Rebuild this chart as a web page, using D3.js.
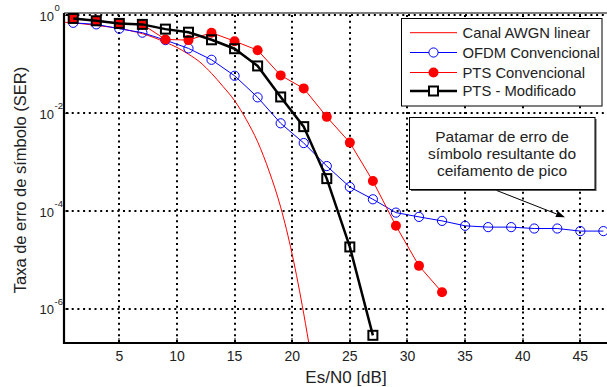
<!DOCTYPE html>
<html>
<head>
<meta charset="utf-8">
<script src="https://cdn.jsdelivr.net/npm/d3@7"></script>
<style>
  html, body { margin: 0; padding: 0; background: #fff; }
  svg { display: block; font-family: Arial, "Liberation Sans", Helvetica, sans-serif; }
</style>
</head>
<body>
<div id="chart"></div>
<script>
(function () {
  "use strict";

  // --- Data ---
  var awgnSnr = [0.2, 1, 2, 3, 4, 5, 6, 7, 8, 9, 10, 11, 12, 13, 14, 15, 16, 17, 18, 19, 20, 21, 21.6];
  var awgnSer = [0.72, 0.70, 0.66, 0.62, 0.58, 0.54, 0.48, 0.42, 0.35, 0.28, 0.22, 0.16, 0.11,
                 0.065, 0.035, 0.018, 7.5e-3, 2.6e-3, 6.5e-4, 1.2e-4, 1.3e-5, 8e-7, 1.2e-7];

  var ofdmSnr = [1, 3, 5, 7, 9, 11, 13, 15, 17, 19, 21, 23, 25, 27, 29, 31, 33, 35, 37, 39, 41, 43, 45, 47];
  var ofdmSer = [0.70, 0.65, 0.53, 0.44, 0.31, 0.21, 0.123, 0.058, 0.021, 6.2e-3, 2.45e-3, 8.3e-4,
                 3.1e-4, 1.74e-4, 9.3e-5, 7.6e-5, 6.3e-5, 5.0e-5, 4.7e-5, 4.7e-5, 4.4e-5, 4.4e-5, 3.9e-5, 3.9e-5];

  var ptsSnr = [1, 3, 5, 7, 9, 11, 13, 15, 17, 19, 21, 23, 25, 27, 29, 31, 33];
  var ptsSer = [0.86, 0.78, 0.69, 0.65, 0.32, 0.31, 0.44, 0.295, 0.193, 0.059, 0.032, 8.4e-3,
                2.5e-3, 4.1e-4, 5.0e-5, 7.6e-6, 2.2e-6];

  var modSnr = [1, 3, 5, 7, 9, 11, 13, 15, 17, 19, 21, 23, 25, 27];
  var modSer = [0.86, 0.77, 0.68, 0.65, 0.52, 0.45, 0.315, 0.207, 0.092, 0.0214, 5.3e-3,
                4.6e-4, 1.85e-5, 2.9e-7];

  var xTicks = [5, 10, 15, 20, 25, 30, 35, 40, 45];
  var yTickExp = [0, -2, -4, -6];

  var legendLabels = ["Canal AWGN linear", "OFDM Convencional", "PTS Convencional", "PTS - Modificado"];
  var noteLines = ["Patamar de erro de", "símbolo resultante do", "ceifamento de pico"];

  // --- Layout ---
  var W = 607, H = 387;
  var plot = { left: 64, right: 608, top: 13, bottom: 343 };

  var svg = d3.select("#chart").append("svg").attr("width", W).attr("height", H);

  var x = d3.scaleLinear().domain([0.2, 47.4]).range([plot.left, plot.right]);
  var y = d3.scaleLog().domain([2.02e-7, 1.11]).range([plot.bottom, plot.top]);

  svg.append("defs").append("clipPath").attr("id", "clip")
    .append("rect")
    .attr("x", plot.left).attr("y", plot.top)
    .attr("width", plot.right - plot.left).attr("height", plot.bottom - plot.top);

  // Grid (MATLAB-style dotted), snapped to whole pixels so the dots stay dark.
  var grid = svg.append("g");
  grid.selectAll("line.v").data(xTicks).enter().append("line")
    .attr("x1", function (d) { return Math.round(x(d)); }).attr("x2", function (d) { return Math.round(x(d)); })
    .attr("y1", plot.top + 2).attr("y2", plot.bottom)
    .attr("stroke", "#000").attr("stroke-width", 2).attr("stroke-dasharray", "2,3.7");
  grid.selectAll("line.h").data(yTickExp).enter().append("line")
    .attr("y1", function (d) { return Math.round(y(Math.pow(10, d))); })
    .attr("y2", function (d) { return Math.round(y(Math.pow(10, d))); })
    .attr("x1", plot.left + 2).attr("x2", plot.right)
    .attr("stroke", "#000").attr("stroke-width", 2).attr("stroke-dasharray", "2,3.7");

  var g = svg.append("g").attr("clip-path", "url(#clip)");

  function pairs(xs, ys) { return xs.map(function (v, i) { return [v, ys[i]]; }); }

  var line = d3.line()
    .x(function (d) { return x(d[0]); })
    .y(function (d) { return y(d[1]); });
  var smooth = d3.line()
    .x(function (d) { return x(d[0]); })
    .y(function (d) { return y(d[1]); })
    .curve(d3.curveMonotoneX);

  // AWGN
  g.append("path").datum(pairs(awgnSnr, awgnSer))
    .attr("d", smooth).attr("fill", "none").attr("stroke", "#ff0000").attr("stroke-width", 1);

  // OFDM convencional
  var ofdm = pairs(ofdmSnr, ofdmSer);
  g.append("path").datum(ofdm)
    .attr("d", line).attr("fill", "none").attr("stroke", "#0000ff").attr("stroke-width", 1);
  g.selectAll("circle.ofdm").data(ofdm).enter().append("circle")
    .attr("cx", function (d) { return x(d[0]); }).attr("cy", function (d) { return y(d[1]); })
    .attr("r", 4.6).attr("fill", "none").attr("stroke", "#0000ff").attr("stroke-width", 1);

  // PTS convencional
  var pts = pairs(ptsSnr, ptsSer);
  g.append("path").datum(pts)
    .attr("d", line).attr("fill", "none").attr("stroke", "#ff0000").attr("stroke-width", 1);
  g.selectAll("circle.pts").data(pts).enter().append("circle")
    .attr("cx", function (d) { return x(d[0]); }).attr("cy", function (d) { return y(d[1]); })
    .attr("r", 5).attr("fill", "#ff0000");

  // PTS modificado
  var mod = pairs(modSnr, modSer);
  g.append("path").datum(mod)
    .attr("d", line).attr("fill", "none").attr("stroke", "#000").attr("stroke-width", 2.5);
  g.selectAll("rect.mod").data(mod).enter().append("rect")
    .attr("x", function (d) { return x(d[0]) - 4.5; }).attr("y", function (d) { return y(d[1]) - 4.5; })
    .attr("width", 9).attr("height", 9)
    .attr("fill", "none").attr("stroke", "#000").attr("stroke-width", 2);

  // Axes box.
  var axes = svg.append("g");
  axes.append("line").attr("x1", plot.left).attr("x2", plot.right)
    .attr("y1", plot.top).attr("y2", plot.top).attr("stroke", "#000").attr("stroke-width", 1);
  axes.append("line").attr("x1", plot.left).attr("x2", plot.right)
    .attr("y1", plot.bottom).attr("y2", plot.bottom).attr("stroke", "#000").attr("stroke-width", 2.2);
  axes.append("line").attr("x1", plot.left).attr("x2", plot.left)
    .attr("y1", plot.top).attr("y2", plot.bottom + 1.1).attr("stroke", "#000").attr("stroke-width", 2.2);

  // X ticks and labels.
  axes.selectAll("line.xt").data(xTicks).enter().append("line")
    .attr("x1", function (d) { return Math.round(x(d)); }).attr("x2", function (d) { return Math.round(x(d)); })
    .attr("y1", plot.bottom).attr("y2", plot.bottom - 5)
    .attr("stroke", "#000").attr("stroke-width", 1);
  axes.selectAll("text.xt").data(xTicks).enter().append("text")
    .attr("x", function (d) { return x(d); }).attr("y", plot.bottom + 18)
    .attr("text-anchor", "middle").attr("font-size", "14px").attr("fill", "#222")
    .text(function (d) { return d; });

  // Y ticks and labels (10^n).
  axes.selectAll("line.yt").data(yTickExp).enter().append("line")
    .attr("x1", plot.left).attr("x2", plot.left + 5)
    .attr("y1", function (d) { return y(Math.pow(10, d)); })
    .attr("y2", function (d) { return y(Math.pow(10, d)); })
    .attr("stroke", "#000").attr("stroke-width", 1);
  var yl = axes.selectAll("g.yl").data(yTickExp).enter().append("g")
    .attr("transform", function (d) { return "translate(0," + y(Math.pow(10, d)) + ")"; });
  yl.append("text").attr("x", 54).attr("y", 5.5).attr("text-anchor", "end")
    .attr("font-size", "13px").attr("fill", "#222").text("10");
  yl.append("text").attr("x", 54.5).attr("y", -4).attr("font-size", "9.5px").attr("fill", "#222")
    .text(function (d) { return d === 0 ? "0" : "-" + Math.abs(d); });

  // Axis titles.
  svg.append("text").attr("x", 346).attr("y", 382.5).attr("text-anchor", "middle")
    .attr("font-size", "17px").attr("fill", "#222").text("Es/N0 [dB]");
  svg.append("text").attr("transform", "translate(26,180) rotate(-90)")
    .attr("text-anchor", "middle").attr("font-size", "16.5px").attr("fill", "#222")
    .text("Taxa de erro de símbolo (SER)");

  // Legend.
  var leg = svg.append("g");
  leg.append("rect").attr("x", 401.5).attr("y", 18.5).attr("width", 200.5).attr("height", 87.5)
    .attr("fill", "#fff").attr("stroke", "#000").attr("stroke-width", 1);
  var rowY = [32.7, 52.5, 72.5, 91];
  var lx1 = 410, lx2 = 457, lmid = (lx1 + lx2) / 2;
  var legStyle = [
    { stroke: "#ff0000", w: 1 },
    { stroke: "#0000ff", w: 1 },
    { stroke: "#ff0000", w: 1 },
    { stroke: "#000", w: 2.5 }
  ];
  legendLabels.forEach(function (label, i) {
    var ry = rowY[i];
    leg.append("line").attr("x1", lx1).attr("x2", lx2).attr("y1", ry).attr("y2", ry)
      .attr("stroke", legStyle[i].stroke).attr("stroke-width", legStyle[i].w);
    if (i === 1) {
      leg.append("circle").attr("cx", lmid).attr("cy", ry).attr("r", 4.6)
        .attr("fill", "#fff").attr("stroke", "#0000ff");
    } else if (i === 2) {
      leg.append("circle").attr("cx", lmid).attr("cy", ry).attr("r", 5).attr("fill", "#ff0000");
    } else if (i === 3) {
      leg.append("rect").attr("x", lmid - 4.5).attr("y", ry - 4.5).attr("width", 9).attr("height", 9)
        .attr("fill", "#fff").attr("stroke", "#000").attr("stroke-width", 2);
    }
    leg.append("text").attr("x", 462.5).attr("y", ry + 5.2).attr("font-size", "14.8px")
      .attr("fill", "#222").text(label);
  });

  // Annotation text box with arrow.
  var note = svg.append("g");
  note.append("rect").attr("x", 411).attr("y", 119).attr("width", 185.5).attr("height", 72)
    .attr("fill", "#555");
  note.append("rect").attr("x", 409.5).attr("y", 117.5).attr("width", 185.5).attr("height", 72)
    .attr("fill", "#fff").attr("stroke", "#000").attr("stroke-width", 1);
  note.selectAll("text").data(noteLines).enter().append("text")
    .attr("x", 502).attr("y", function (d, i) { return 141.5 + i * 17.3; })
    .attr("text-anchor", "middle").attr("font-size", "15.5px").attr("fill", "#222")
    .text(function (d) { return d; });

  var ax1 = 496.7, ay1 = 190.5, ax2 = 565, ay2 = 217.3;
  var ang = Math.atan2(ay2 - ay1, ax2 - ax1);
  var hl = 9, hw = 3.2;
  var bx = ax2 - hl * Math.cos(ang), by = ay2 - hl * Math.sin(ang);
  note.append("line").attr("x1", ax1).attr("y1", ay1).attr("x2", bx).attr("y2", by)
    .attr("stroke", "#000").attr("stroke-width", 1);
  note.append("path")
    .attr("d", "M" + ax2 + "," + ay2 +
      "L" + (bx + hw * Math.sin(ang)) + "," + (by - hw * Math.cos(ang)) +
      "L" + (bx - hw * Math.sin(ang)) + "," + (by + hw * Math.cos(ang)) + "Z")
    .attr("fill", "#000");
})();
</script>
</body>
</html>
